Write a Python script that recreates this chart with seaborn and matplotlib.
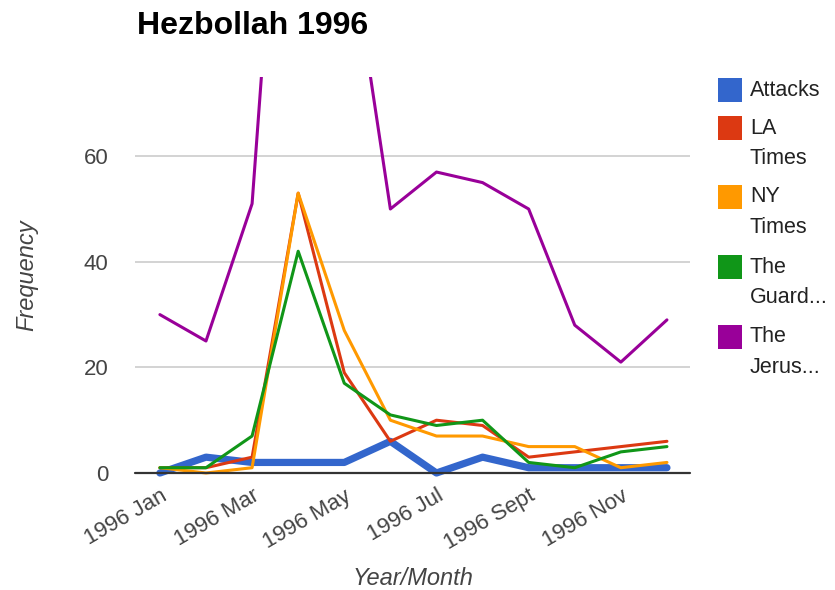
import pandas as pd
import seaborn as sns
import matplotlib.pyplot as plt
from matplotlib.patches import Rectangle

# Dane
months = ['1996 Jan', '1996 Feb', '1996 Mar', '1996 Apr', '1996 May', '1996 Jun',
          '1996 Jul', '1996 Aug', '1996 Sept', '1996 Oct', '1996 Nov', '1996 Dec']
attacks = [0, 3, 2, 2, 2, 6, 0, 3, 1, 1, 1, 1]
la_times = [1, 1, 3, 53, 19, 6, 10, 9, 3, 4, 5, 6]
ny_times = [1, 0, 1, 53, 27, 10, 7, 7, 5, 5, 1, 2]
guardian = [1, 1, 7, 42, 17, 11, 9, 10, 2, 1, 4, 5]
jerusalem = [30, 25, 51, 170, 108, 50, 57, 55, 50, 28, 21, 29]

series = ['Attacks', 'LA Times', 'NY Times', 'The Guardian', 'The Jerusalem Post']
legend_labels = [['Attacks'], ['LA', 'Times'], ['NY', 'Times'],
                 ['The', 'Guard...'], ['The', 'Jerus...']]
colors = ['#3366cc', '#dc3912', '#ff9900', '#109618', '#990099']
widths = [5.2, 2.2, 2.2, 2.2, 2.2]

values = [attacks, la_times, ny_times, guardian, jerusalem]
df = pd.DataFrame({
    'x': list(range(len(months))) * len(series),
    'Frequency': [v for vals in values for v in vals],
    'Source': [s for s in series for _ in months],
})

sns.set_theme(style="white")
plt.rcParams['font.family'] = ['Liberation Sans', 'DejaVu Sans']

W, H = 835, 590
fig = plt.figure(figsize=(W / 100, H / 100), dpi=100)
ax = fig.add_axes([135 / W, 1 - 473 / H, 555 / W, 396 / H])

sns.lineplot(data=df, x='x', y='Frequency', hue='Source', size='Source',
             palette=dict(zip(series, colors)), sizes=dict(zip(series, widths)),
             hue_order=series, size_order=series, legend=False, ax=ax)

# linie przy zerze nie sa przycinane (tylko Jerusalem wychodzi poza gore)
for line in ax.lines[:4]:
    line.set_clip_on(False)

ax.set_xlim(-0.54, 11.5)
ax.set_ylim(0, 75)
ax.set_yticks([0, 20, 40, 60])
ax.set_xticks(range(0, 12, 2))
ax.set_xticklabels(months[::2], rotation=30, ha='right', rotation_mode='anchor')
ax.tick_params(axis='both', length=0, labelsize=16, labelcolor='#444444')
ax.tick_params(axis='y', pad=19)
ax.tick_params(axis='x', pad=9)

ax.grid(axis='y', color='#cccccc', linewidth=1.2)
ax.set_axisbelow(True)
for s in ax.spines.values():
    s.set_visible(False)
ax.axhline(0, color='#333333', linewidth=1.6, zorder=3, clip_on=False)

ax.set_xlabel('Year/Month', fontsize=17, style='italic', color='#444444', labelpad=9)
ax.set_ylabel('Frequency', fontsize=17, style='italic', color='#444444', labelpad=33)

fig.text(137 / W, 1 - 26 / H, 'Hezbollah 1996', fontsize=23, fontweight='bold',
         color='#000000', va='center', ha='left')

# Legenda rysowana recznie (kwadrat przy pierwszej linii opisu)
entry_y = [90, 128, 197, 267, 337]
for c, lines, y in zip(colors, legend_labels, entry_y):
    fig.patches.append(Rectangle((718 / W, 1 - (y + 12) / H), 24 / W, 24 / H,
                                 transform=fig.transFigure, facecolor=c,
                                 edgecolor=c, linewidth=0))
    for i, line in enumerate(lines):
        fig.text(750 / W, 1 - (y + 30.5 * i) / H, line, fontsize=15.5,
                 color='#222222', va='center', ha='left')

fig.savefig('out.png', dpi=100)
